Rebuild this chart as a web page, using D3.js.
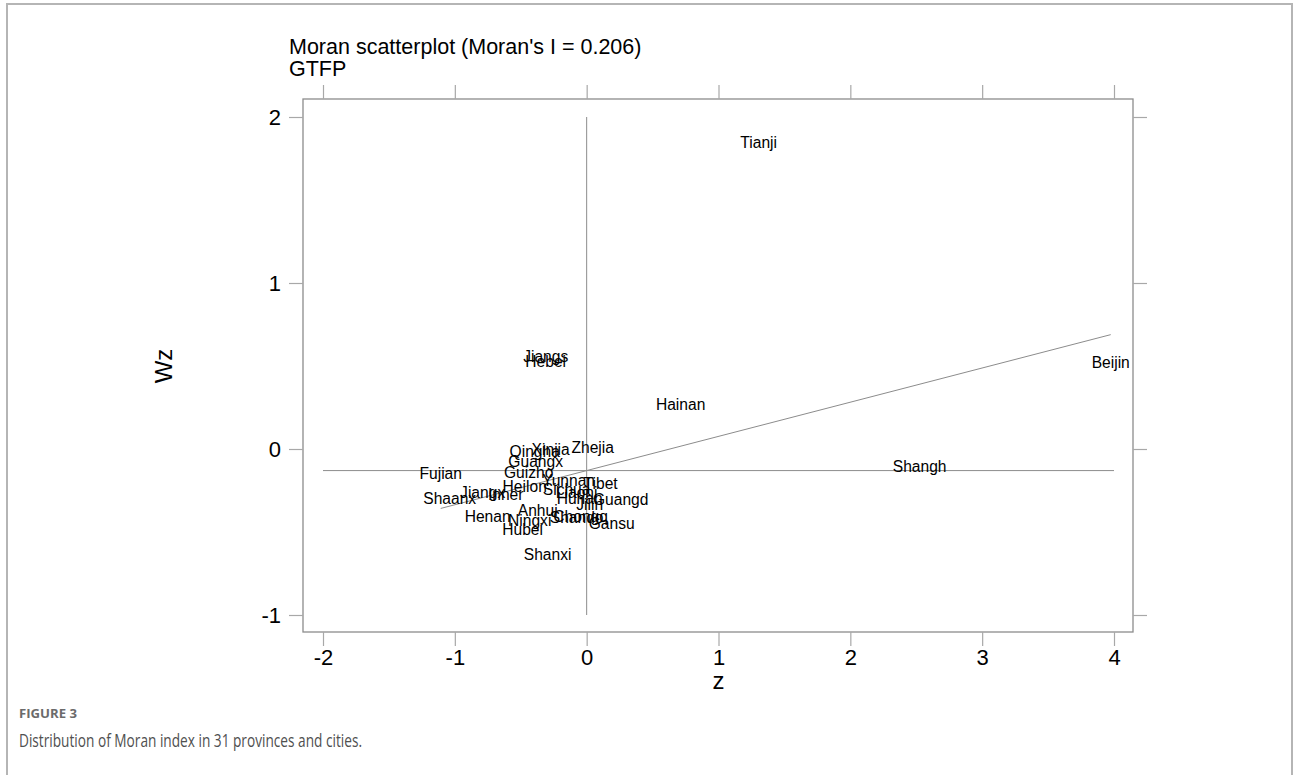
<!DOCTYPE html>
<html lang="en">
<head>
<meta charset="UTF-8">
<title>Moran scatterplot</title>
<style>
    body{
        margin:0;
        background:#fff;
    }
    svg text{
        font-family: "Liberation Sans", Arial, sans-serif;
        fill:#000;
    }
</style>
<script src="https://cdn.jsdelivr.net/npm/d3@7"></script>
</head>
<body>
<div id="container"></div>
<script>

// province labels (Stata truncates to 6 chars) and their z / Wz values
var provinces = ["Tianji","Beijin","Shangh","Hainan","Jiangs","Hebei","Zhejia","Qingha","Xinjia","Guangx",
    "Fujian","Guizho","Yunnan","Tibet","Heilon","Sichua","Liaoni","Jiangx","Inner","Shaanx",
    "Hunan","Guangd","Jilin","Anhui","Henan","Shando","Chongq","Ningxi","Gansu","Hubei","Shanxi"];
var zValues = [1.305, 3.975, 2.526, 0.713, -0.311, -0.311, 0.046, -0.394, -0.273, -0.387,
    -1.107, -0.440, -0.137, 0.106, -0.470, -0.152, -0.076, -0.789, -0.614, -1.039,
    -0.053, 0.258, 0.023, -0.371, -0.751, -0.076, -0.046, -0.432, 0.190, -0.486, -0.296];
var wzValues = [1.849, 0.524, -0.102, 0.271, 0.560, 0.530, 0.012, -0.012, 0.000, -0.072,
    -0.145, -0.139, -0.187, -0.205, -0.223, -0.241, -0.259, -0.259, -0.271, -0.295,
    -0.295, -0.301, -0.331, -0.367, -0.404, -0.410, -0.404, -0.428, -0.446, -0.482, -0.633];

var xTicks = [-2, -1, 0, 1, 2, 3, 4];
var yTicks = [-1, 0, 1, 2];
var moranI = 0.206;
var meanWz = -0.13;

var w = 1293, h = 775;
var box = {left: 303, right: 1133, top: 99, bottom: 632};

var xScale = d3.scaleLinear().domain([-2, 4]).range([323, 1114]);
var yScale = d3.scaleLinear().domain([-1, 2]).range([615, 117]);

var svg = d3.select("#container")
        .append("svg")
        .attr("width", w)
        .attr("height", h);

// outer figure frame
svg.append("rect")
        .attr("x", 7).attr("y", 4)
        .attr("width", 1285).attr("height", 800)
        .attr("fill", "none")
        .attr("stroke", "#b5b5b5")
        .attr("stroke-width", 2);

// plot region
svg.append("rect")
        .attr("x", box.left).attr("y", box.top)
        .attr("width", box.right - box.left)
        .attr("height", box.bottom - box.top)
        .attr("fill", "none")
        .attr("stroke", "#8c8c8c")
        .attr("stroke-width", 1.3);

function styleAxis(g, fontSize) {
    g.select(".domain").remove();
    g.selectAll(".tick line").attr("stroke", "#a8a8a8").attr("stroke-width", 1.2);
    g.selectAll(".tick text")
            .attr("font-size", fontSize)
            .attr("font-family", "Liberation Sans, Arial, sans-serif")
            .attr("fill", "#000");
}

var fmt = function(d) { return String(d); };

svg.append("g")
        .attr("transform", "translate(" + box.left + ",0)")
        .call(d3.axisLeft(yScale).tickValues(yTicks).tickSize(14).tickPadding(8).tickFormat(fmt))
        .call(styleAxis, "22px");

svg.append("g")
        .attr("transform", "translate(" + box.right + ",0)")
        .call(d3.axisRight(yScale).tickValues(yTicks).tickSize(14).tickFormat(""))
        .call(styleAxis, "22px");

svg.append("g")
        .attr("transform", "translate(0," + box.bottom + ")")
        .call(d3.axisBottom(xScale).tickValues(xTicks).tickSize(14).tickPadding(3).tickFormat(fmt))
        .call(styleAxis, "22px");

svg.append("g")
        .attr("transform", "translate(0," + box.top + ")")
        .call(d3.axisTop(xScale).tickValues(xTicks).tickSize(14).tickFormat(""))
        .call(styleAxis, "22px");

// mean reference lines
svg.append("line")
        .attr("x1", xScale(0)).attr("x2", xScale(0))
        .attr("y1", yScale(-1)).attr("y2", yScale(2))
        .attr("stroke", "#8c8c8c").attr("stroke-width", 1);

svg.append("line")
        .attr("x1", xScale(-2)).attr("x2", xScale(4))
        .attr("y1", yScale(meanWz)).attr("y2", yScale(meanWz))
        .attr("stroke", "#8c8c8c").attr("stroke-width", 1);

// fitted line, slope = Moran's I
var zMin = d3.min(zValues), zMax = d3.max(zValues);
svg.append("line")
        .attr("x1", xScale(zMin)).attr("y1", yScale(meanWz + moranI * zMin))
        .attr("x2", xScale(zMax)).attr("y2", yScale(meanWz + moranI * zMax))
        .attr("stroke", "#8c8c8c").attr("stroke-width", 1);

// point labels
svg.selectAll("text.prov")
        .data(provinces)
        .enter()
        .append("text")
        .attr("class", "prov")
        .text(function(d) { return d; })
        .attr("x", function(d, i) { return xScale(zValues[i]); })
        .attr("y", function(d, i) { return yScale(wzValues[i]); })
        .attr("dy", "0.36em")
        .attr("text-anchor", "middle")
        .attr("font-size", "15.6px");

// titles
svg.append("text").attr("x", 289).attr("y", 54)
        .attr("font-size", "21.5px")
        .text("Moran scatterplot (Moran's I = 0.206)");
svg.append("text").attr("x", 289).attr("y", 76)
        .attr("font-size", "21.5px")
        .text("GTFP");

svg.append("text")
        .attr("x", xScale(1)).attr("y", 689)
        .attr("text-anchor", "middle")
        .attr("font-size", "24px")
        .text("z");

svg.append("text")
        .attr("transform", "translate(172,366) rotate(-90)")
        .attr("text-anchor", "middle")
        .attr("font-size", "24px")
        .text("Wz");

// caption
svg.append("text").attr("x", 19).attr("y", 718)
        .style("font-family", "'Open Sans', 'Noto Sans', sans-serif")
        .attr("font-size", "13px")
        .attr("textLength", 58)
        .attr("lengthAdjust", "spacingAndGlyphs")
        .attr("font-weight", "bold")
        .style("fill", "#6b6b6b")
        .text("FIGURE 3");
svg.append("text").attr("x", 19).attr("y", 747)
        .style("font-family", "'Open Sans', 'Noto Sans', sans-serif")
        .attr("font-size", "17.5px")
        .attr("textLength", 343)
        .attr("lengthAdjust", "spacingAndGlyphs")
        .style("fill", "#505050")
        .text("Distribution of Moran index in 31 provinces and cities.");

</script>
</body>
</html>
